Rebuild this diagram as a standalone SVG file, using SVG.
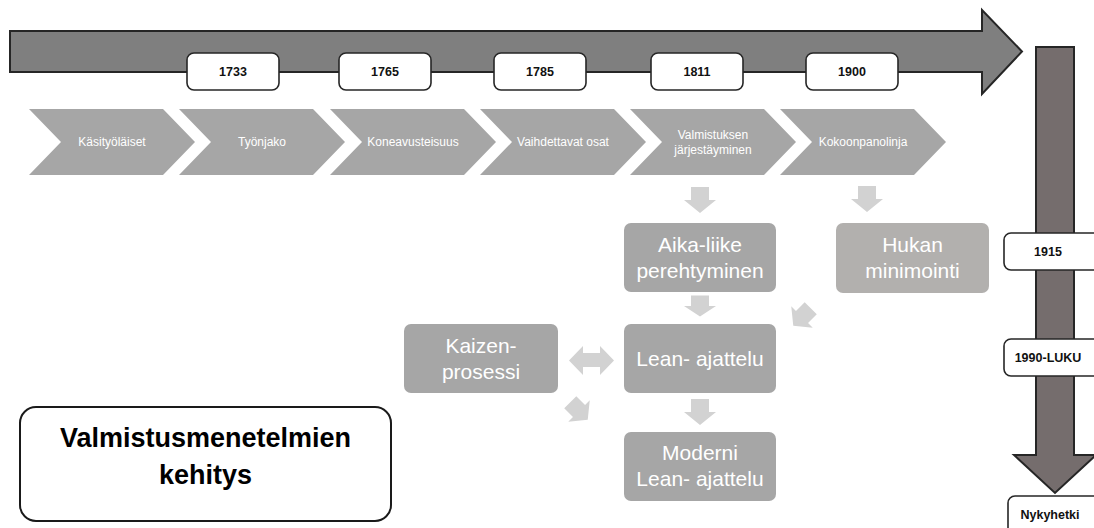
<svg xmlns="http://www.w3.org/2000/svg" width="1094" height="528" viewBox="0 0 1094 528">
<style>
.bg{fill:#ffffff}
.tl{fill:#7f7f7f;stroke:#262626;stroke-width:2;stroke-linejoin:miter}
.vt{fill:#756d6d;stroke:#262626;stroke-width:2}
.yr{fill:#ffffff;stroke:#262626;stroke-width:1.6}
.yt{font-family:"Liberation Sans",Arial,sans-serif;font-weight:bold;font-size:12.5px;fill:#111;text-anchor:middle}
.ch{fill:#a6a6a6}
.ct{font-family:"Liberation Sans",Arial,sans-serif;font-size:12px;fill:#ffffff;text-anchor:middle}
.bx{fill:#a6a6a6}
.bx2{fill:#b2b0ae}
.bt{font-family:"Liberation Sans",Arial,sans-serif;font-size:21px;fill:#ffffff;text-anchor:middle}
.ar{fill:#d2d2d2}
.tb{fill:#ffffff;stroke:#1a1a1a;stroke-width:2}
.tt{font-family:"Liberation Sans",Arial,sans-serif;font-weight:bold;font-size:27px;fill:#000;text-anchor:middle}
</style>
<defs>
<path id="darr" d="M-9,-13 H9 V0 H16 L0,13 L-16,0 H-9 Z"/>
</defs>
<rect class="bg" x="0" y="0" width="1094" height="528"/>

<g id="timeline-top">
<path class="tl" d="M10,31 H982 V10 L1022,51.5 L982,94 V72 H10 Z"/>
</g>
<g id="timeline-right">
<path class="vt" d="M1036,47 H1074 V455 H1096 L1055,493 L1014,455 H1036 Z"/>
</g>

<g id="year-1733"><rect class="yr" x="187" y="53" width="92" height="37" rx="7"/><text class="yt" x="233" y="76">1733</text></g>
<g id="year-1765"><rect class="yr" x="339" y="53" width="92" height="37" rx="7"/><text class="yt" x="385" y="76">1765</text></g>
<g id="year-1785"><rect class="yr" x="494" y="53" width="92" height="37" rx="7"/><text class="yt" x="540" y="76">1785</text></g>
<g id="year-1811"><rect class="yr" x="651" y="53" width="92" height="37" rx="7"/><text class="yt" x="697" y="76">1811</text></g>
<g id="year-1900"><rect class="yr" x="806" y="53" width="92" height="37" rx="7"/><text class="yt" x="852" y="76">1900</text></g>
<g id="year-1915"><rect class="yr" x="1004" y="233" width="96" height="37" rx="7"/><text class="yt" x="1048" y="256">1915</text></g>
<g id="year-1990"><rect class="yr" x="1004" y="339" width="96" height="37" rx="7"/><text class="yt" x="1048" y="362">1990-LUKU</text></g>
<g id="year-now"><rect class="yr" x="1008" y="496" width="96" height="40" rx="7"/><text class="yt" x="1050" y="519">Nykyhetki</text></g>

<g id="step-1"><path class="ch" d="M29,109 H163 L195,142 L163,175 H29 L61,142 Z"/><text class="ct" x="112" y="146">Käsityöläiset</text></g>
<g id="step-2"><path class="ch" d="M179,109 H313 L345,142 L313,175 H179 L211,142 Z"/><text class="ct" x="262" y="146">Työnjako</text></g>
<g id="step-3"><path class="ch" d="M330,109 H464 L496,142 L464,175 H330 L362,142 Z"/><text class="ct" x="413" y="146">Koneavusteisuus</text></g>
<g id="step-4"><path class="ch" d="M480,109 H614 L646,142 L614,175 H480 L512,142 Z"/><text class="ct" x="563" y="146">Vaihdettavat osat</text></g>
<g id="step-5"><path class="ch" d="M630,109 H764 L796,142 L764,175 H630 L662,142 Z"/><text class="ct" x="713" y="139">Valmistuksen</text><text class="ct" x="713" y="154">järjestäyminen</text></g>
<g id="step-6"><path class="ch" d="M780,109 H914 L946,142 L914,175 H780 L812,142 Z"/><text class="ct" x="863" y="146">Kokoonpanolinja</text></g>

<g id="aika"><rect class="bx" x="624" y="223" width="152" height="69" rx="7"/><text class="bt" x="700" y="252">Aika-liike</text><text class="bt" x="700" y="278">perehtyminen</text></g>
<g id="hukan"><rect class="bx2" x="836" y="223" width="153" height="70" rx="7"/><text class="bt" x="912.5" y="252">Hukan</text><text class="bt" x="912.5" y="278">minimointi</text></g>
<g id="lean"><rect class="bx" x="624" y="324" width="152" height="69" rx="7"/><text class="bt" x="700" y="366">Lean- ajattelu</text></g>
<g id="kaizen"><rect class="bx" x="404" y="324" width="154" height="69" rx="7"/><text class="bt" x="481" y="353">Kaizen-</text><text class="bt" x="481" y="379">prosessi</text></g>
<g id="moderni"><rect class="bx" x="624" y="432" width="152" height="69" rx="7"/><text class="bt" x="700" y="460">Moderni</text><text class="bt" x="700" y="486">Lean- ajattelu</text></g>

<g id="connectors">
<use href="#darr" class="ar" transform="translate(700,200)"/>
<use href="#darr" class="ar" transform="translate(867,199)"/>
<use href="#darr" class="ar" transform="translate(700,306) scale(1,0.8)"/>
<use href="#darr" class="ar" transform="translate(700,412)"/>
<path class="ar" d="M569,360.5 L583,346 V353 H600 V346 L614,360.5 L600,375 V367 H583 V375 Z"/>
<use href="#darr" class="ar" transform="translate(579,411) rotate(-45) scale(0.95)"/>
<use href="#darr" class="ar" transform="translate(802,317) rotate(45) scale(0.95)"/>
</g>

<g id="title"><rect class="tb" x="20" y="407" width="371" height="114" rx="16"/><text class="tt" x="205.5" y="447">Valmistusmenetelmien</text><text class="tt" x="205.5" y="484">kehitys</text></g>
</svg>
